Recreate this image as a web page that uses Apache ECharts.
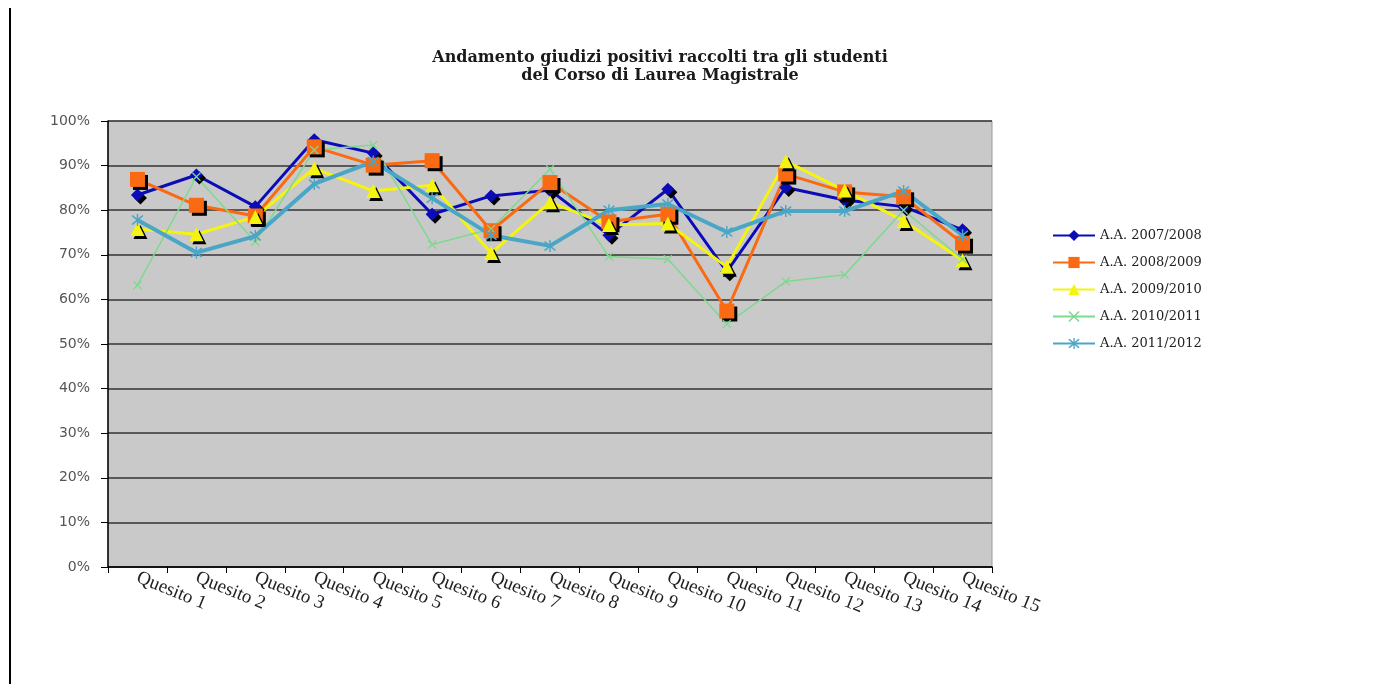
<!DOCTYPE html>
<html>
<head>
<meta charset="utf-8">
<script src="https://cdn.jsdelivr.net/npm/echarts@6/dist/echarts.min.js"></script>
<style>
  html, body { margin: 0; padding: 0; background: #fff; }
  #main { width: 1377px; height: 684px; }
  .frame { position: absolute; left: 9px; top: 8px; width: 2px; height: 676px; background: #000; }
</style>
</head>
<body>
<div id="main"></div>
<div class="frame"></div>
<script>
const categories = ['Quesito 1', 'Quesito 2', 'Quesito 3', 'Quesito 4', 'Quesito 5', 'Quesito 6', 'Quesito 7',
  'Quesito 8', 'Quesito 9', 'Quesito 10', 'Quesito 11', 'Quesito 12', 'Quesito 13', 'Quesito 14', 'Quesito 15']
const yearNames = ['A.A. 2007/2008', 'A.A. 2008/2009', 'A.A. 2009/2010', 'A.A. 2010/2011', 'A.A. 2011/2012']
const aa0708 = [83.4, 87.9, 80.8, 95.8, 92.8, 79.1, 83.2, 84.5, 74.4, 84.7, 66.2, 85.1, 82.3, 80.8, 75.6]
const aa0809 = [86.9, 81.1, 78.7, 94.2, 90.1, 91.1, 75.4, 86.2, 77.4, 79.1, 57.4, 88.1, 84.1, 83.0, 72.6]
const aa0910 = [75.8, 74.6, 78.5, 89.4, 84.3, 85.6, 70.4, 81.8, 76.7, 77.0, 67.3, 91.0, 84.4, 77.6, 68.8]
const aa1011 = [63.2, 87.5, 72.9, 93.5, 94.6, 72.3, 75.8, 89.2, 69.6, 69.0, 54.5, 64.0, 65.5, 80.0, 69.0]
const aa1112 = [77.8, 70.5, 74.2, 85.9, 90.9, 82.7, 74.4, 72.0, 80.0, 81.4, 75.1, 79.8, 79.8, 84.3, 74.4]
const yTicks = [0, 10, 20, 30, 40, 50, 60, 70, 80, 90, 100]

const xMark = 'path://M1,0 L5,4 L9,0 L10,1 L6,5 L10,9 L9,10 L5,6 L1,10 L0,9 L4,5 L0,1 Z'
const starMark = 'path://M1,0 L5,4 L9,0 L10,1 L6,5 L10,9 L9,10 L5,6 L1,10 L0,9 L4,5 L0,1 Z M4.4,-1 L5.6,-1 L5.6,11 L4.4,11 Z'

var chart = echarts.init(document.getElementById('main'))

function makeSeries (name, data, color, width, symbol, size, shadow) {
  return {
    name: name,
    type: 'line',
    data: data,
    symbol: symbol,
    symbolSize: size,
    showAllSymbol: true,
    lineStyle: { color: color, width: width },
    itemStyle: shadow
      ? { color: color, shadowColor: '#000', shadowOffsetX: 3, shadowOffsetY: 3, shadowBlur: 0 }
      : { color: color },
    emphasis: { disabled: true }
  }
}

var option = {
  animation: false,
  backgroundColor: '#fff',
  title: {
    text: 'Andamento giudizi positivi raccolti tra gli studenti\ndel Corso di Laurea Magistrale',
    left: 655,
    top: 44,
    textAlign: 'center',
    textStyle: {
      fontFamily: 'DejaVu Serif',
      fontWeight: 'bold',
      fontSize: 16,
      lineHeight: 18,
      color: '#1a1a1a'
    }
  },
  legend: {
    orient: 'vertical',
    left: 1052,
    top: 229,
    padding: 0,
    itemWidth: 42,
    itemHeight: 14,
    itemGap: 14,
    textStyle: { fontFamily: 'DejaVu Serif', fontSize: 13, color: '#222' },
    data: yearNames
  },
  grid: {
    left: 108,
    right: 385,
    top: 121,
    bottom: 117,
    show: true,
    backgroundColor: '#c9c9c9',
    borderColor: '#9a9a9a',
    borderWidth: 1
  },
  xAxis: {
    type: 'category',
    data: categories,
    boundaryGap: true,
    axisLine: { lineStyle: { color: '#000', width: 1.5 } },
    axisTick: { show: true, length: 6, lineStyle: { color: '#000' } },
    axisLabel: {
      rotate: -22,
      margin: 10,
      interval: 0,
      fontFamily: 'Liberation Serif',
      fontSize: 19,
      color: '#222'
    }
  },
  yAxis: {
    type: 'value',
    min: yTicks[0],
    max: yTicks[yTicks.length - 1],
    interval: 10,
    axisLine: { show: true, lineStyle: { color: '#000', width: 1.5 } },
    axisTick: { show: true, length: 7, lineStyle: { color: '#000' } },
    axisLabel: {
      formatter: '{value}%',
      margin: 18,
      fontFamily: 'DejaVu Sans',
      fontSize: 14,
      color: '#555'
    },
    splitLine: { show: true, lineStyle: { color: '#333', width: 1.5 } }
  },
  series: [
    makeSeries(yearNames[0], aa0708, '#0b0bb8', 3, 'diamond', 13, true),
    makeSeries(yearNames[1], aa0809, '#f96a12', 3, 'rect', 15, true),
    makeSeries(yearNames[2], aa0910, '#f4f40f', 3, 'triangle', 14, true),
    makeSeries(yearNames[3], aa1011, '#7fd98d', 1.5, xMark, 9, false),
    makeSeries(yearNames[4], aa1112, '#4aa6c6', 4, starMark, 12, false)
  ]
}

chart.setOption(option)
</script>
</body>
</html>
